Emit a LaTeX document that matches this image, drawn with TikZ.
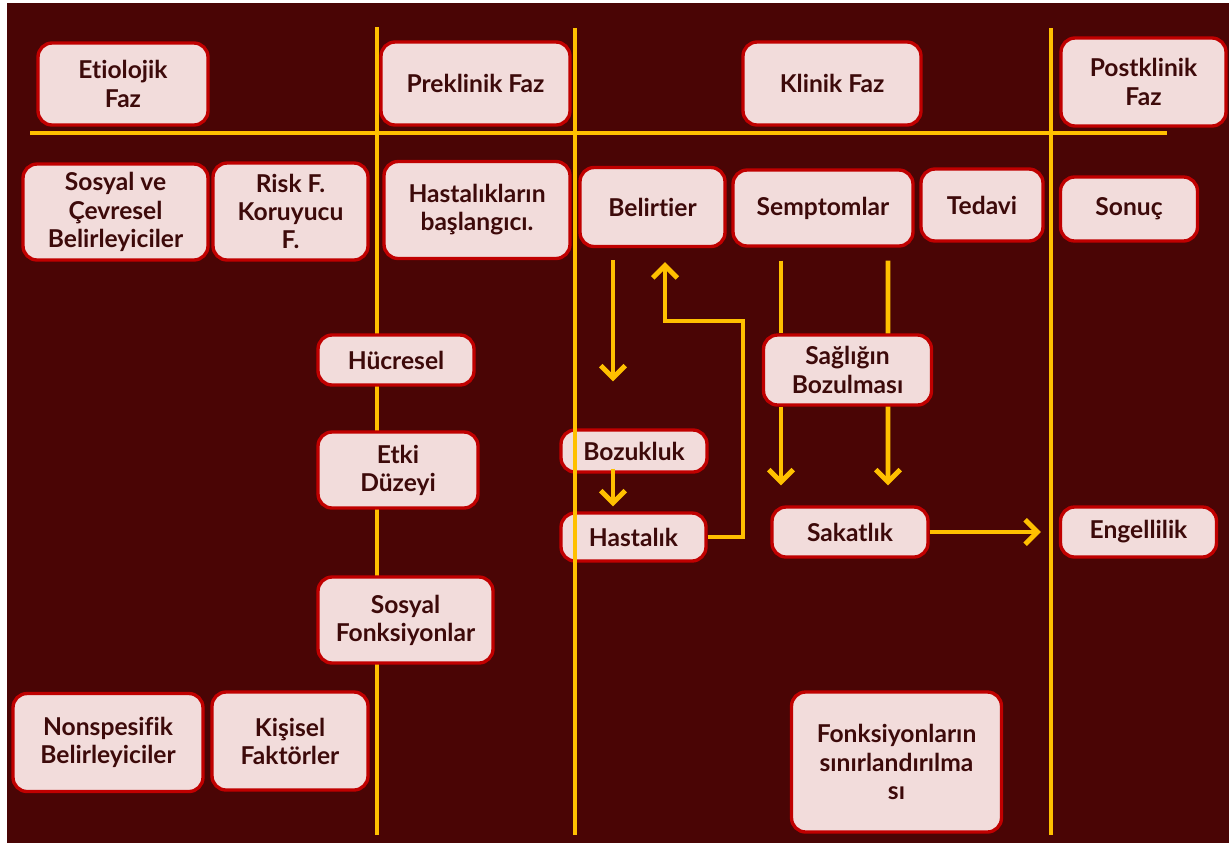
\documentclass[tikz,border=0pt]{standalone}
\usepackage{fontspec}
\setmainfont{Lato}[Ligatures={NoCommon}]
\usepackage{tikz}
\usetikzlibrary{arrows.meta,calc}
\definecolor{maroon}{HTML}{4A0505}
\definecolor{gold}{HTML}{FFC000}
\definecolor{blush}{HTML}{F2DCDB}
\definecolor{crimson}{HTML}{C00000}
\definecolor{ink}{HTML}{3D0A0A}
\tikzset{
  faz/.style={rectangle,rounded corners=8pt,draw=crimson,line width=1.9pt,fill=blush,align=center,text=ink,font=\fontsize{14}{16}\selectfont\bfseries,inner sep=2pt},
  bar/.style={draw=gold,line width=2.8pt},
  flow/.style={draw=gold,line width=2.8pt,-{Straight Barb[length=7pt,width=14pt]}},
}

\begin{document}
\begin{tikzpicture}[x=0.02cm,y=-0.02cm]
\useasboundingbox (0,0) rectangle (1229,843);
\fill[white] (0,0) rectangle (1229,843);
\fill[maroon] (7,3) rectangle (1229,843);
% phase grid
\draw[bar] (30,133) -- (1167,133);
\draw[bar] (377,27) -- (377,835);
\draw[bar] (1051,28) -- (1051,835);
% phase titles
\node[faz,minimum width=3.40cm,minimum height=1.64cm] (etio) at (123,84) {Etiolojik\\Faz};
\node[faz,minimum width=3.78cm,minimum height=1.66cm] (prek) at (475.5,83.5) {Preklinik Faz};
\node[faz,minimum width=3.56cm,minimum height=1.66cm] (klin) at (832,83.5) {Klinik Faz};
\node[faz,minimum width=3.30cm,minimum height=1.76cm] (post) at (1143.5,82) {Postklinik\\Faz};
% second row
\node[faz,minimum width=3.70cm,minimum height=1.92cm] (sosy) at (115.5,212) {Sosyal ve\\Çevresel\\Belirleyiciler};
\node[faz,minimum width=3.10cm,minimum height=1.94cm] (risk) at (290.5,211.5) {Risk F.\\Koruyucu\\F.};
\node[faz,minimum width=3.72cm,minimum height=1.94cm] (hast) at (477,210) {Hastalıkların\\başlangıcı.};
\node[faz,minimum width=2.90cm,minimum height=1.58cm] (beli) at (652.5,207) {Belirtier};
\node[faz,minimum width=3.60cm,minimum height=1.52cm] (semp) at (823,208) {Semptomlar};
\node[faz,minimum width=2.44cm,minimum height=1.44cm] (teda) at (982,205) {Tedavi};
\node[faz,minimum width=2.74cm,minimum height=1.28cm] (sonu) at (1129,209) {Sonuç};
% levels
\node[faz,minimum width=3.12cm,minimum height=1.00cm] (hucr) at (396,360) {Hücresel};
\node[faz,minimum width=3.20cm,minimum height=1.52cm] (etki) at (398,470) {Etki\\Düzeyi};
\node[faz,minimum width=3.50cm,minimum height=1.72cm] (sfon) at (405.5,620) {Sosyal\\Fonksiyonlar};
\node[faz,minimum width=3.80cm,minimum height=1.96cm] (nons) at (108,742.5) {Nonspesifik\\Belirleyiciler};
\node[faz,minimum width=3.12cm,minimum height=1.96cm] (kisi) at (290,741) {Kişisel\\Faktörler};
% clinical course
\node[faz,minimum width=2.92cm,minimum height=0.84cm] (bozu) at (634,451) {Bozukluk};
\node[faz,minimum width=2.90cm,minimum height=0.96cm] (hsta) at (633.5,537) {Hastalık};
\node[faz,minimum width=3.36cm,minimum height=1.40cm] (sagl) at (847.5,370) {Sağlığın\\Bozulması};
\node[faz,minimum width=3.12cm,minimum height=1.00cm] (saka) at (850,532) {Sakatlık};
\node[faz,minimum width=3.12cm,minimum height=1.00cm] (enge) at (1138.5,532) {Engellilik};
\node[faz,minimum width=4.20cm,minimum height=2.80cm] (fsin) at (896.5,762) {Fonksiyonların\\sınırlandırılma\\sı};
\draw[bar] (575,28) -- (575,835);
% arrows
\coordinate (k1) at (743,321);
\draw[flow] ($(beli.south)+(-39.5,12)$) -- ($(bozu.north)+(-21,-47)$);
\draw[flow] ($(bozu.south)+(-21,-5)$) -- ($(hsta.north)+(-20.5,-5)$);
\draw[flow] (hsta.east) -| (k1) -| ($(beli.south)+(12.5,14)$);
\draw[bar] ($(semp.south)+(-42,13)$) -- ($(sagl.north)+(-66.5,0)$);
\draw[bar] ($(semp.south)+(65,13)$) -- ($(sagl.north)+(40.5,0)$);
\draw[flow] ($(sagl.south)+(-66.5,0)$) -- ($(saka.north)+(-69,-20)$);
\draw[flow] ($(sagl.south)+(40.5,0)$) -- ($(saka.north)+(38,-20)$);
\draw[flow] (saka.east) -- ($(enge.west)+(-18,0)$);
\end{tikzpicture}
\end{document}
